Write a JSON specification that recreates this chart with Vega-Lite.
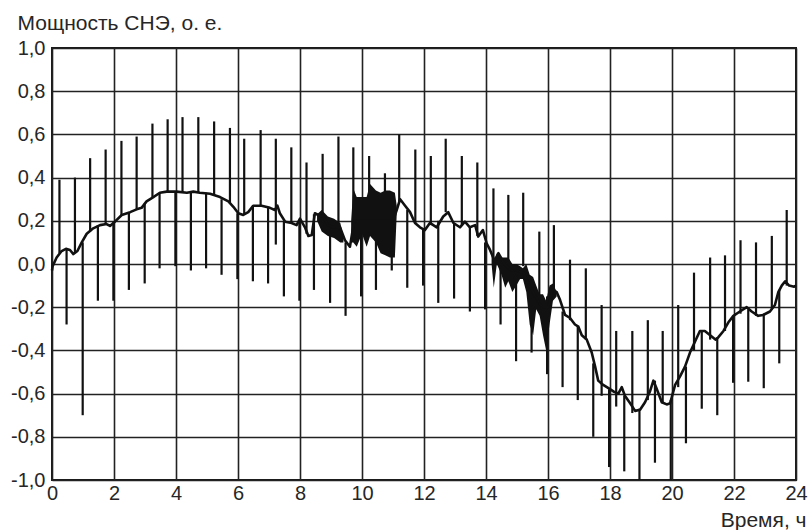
{
  "$schema": "https://vega.github.io/schema/vega-lite/v6.json",
  "width": 744,
  "height": 432,
  "autosize": "none",
  "padding": {"left": 52, "top": 48, "right": 14, "bottom": 50},
  "background": "white",
  "config": {
    "view": {"stroke": "#1a1a1a", "strokeWidth": 2},
    "font": "Liberation Sans"
  },
  "datasets": {
    "curve": [
      {"t": 0.0, "v": -0.03}, {"t": 0.02, "v": -0.01}, {"t": 0.15, "v": 0.03}, {"t": 0.31, "v": 0.06},
      {"t": 0.45, "v": 0.07}, {"t": 0.58, "v": 0.065}, {"t": 0.69, "v": 0.046}, {"t": 0.82, "v": 0.06},
      {"t": 0.96, "v": 0.10}, {"t": 1.12, "v": 0.14}, {"t": 1.33, "v": 0.165}, {"t": 1.55, "v": 0.18},
      {"t": 1.76, "v": 0.185}, {"t": 1.87, "v": 0.176}, {"t": 2.03, "v": 0.196}, {"t": 2.25, "v": 0.227},
      {"t": 2.52, "v": 0.24}, {"t": 2.73, "v": 0.253}, {"t": 2.89, "v": 0.26}, {"t": 3.05, "v": 0.29},
      {"t": 3.27, "v": 0.31}, {"t": 3.48, "v": 0.33}, {"t": 3.7, "v": 0.335}, {"t": 4.02, "v": 0.335},
      {"t": 4.35, "v": 0.33}, {"t": 4.56, "v": 0.335}, {"t": 4.77, "v": 0.33}, {"t": 5.1, "v": 0.325},
      {"t": 5.42, "v": 0.31}, {"t": 5.69, "v": 0.29}, {"t": 5.85, "v": 0.265}, {"t": 6.01, "v": 0.235},
      {"t": 6.17, "v": 0.227}, {"t": 6.33, "v": 0.24}, {"t": 6.49, "v": 0.27}, {"t": 6.76, "v": 0.27},
      {"t": 7.03, "v": 0.26}, {"t": 7.19, "v": 0.25}, {"t": 7.27, "v": 0.27}, {"t": 7.35, "v": 0.235},
      {"t": 7.52, "v": 0.196}, {"t": 7.73, "v": 0.19}, {"t": 7.89, "v": 0.18}, {"t": 8.0, "v": 0.21},
      {"t": 8.16, "v": 0.17}, {"t": 8.27, "v": 0.13}, {"t": 8.38, "v": 0.134}, {"t": 8.48, "v": 0.235},
      {"t": 8.59, "v": 0.227}, {"t": 8.75, "v": 0.22}, {"t": 8.9, "v": 0.18}, {"t": 9.07, "v": 0.17},
      {"t": 9.29, "v": 0.17}, {"t": 9.45, "v": 0.11}, {"t": 9.61, "v": 0.08}, {"t": 9.75, "v": 0.2},
      {"t": 10.0, "v": 0.2}, {"t": 10.5, "v": 0.2}, {"t": 11.0, "v": 0.2}, {"t": 11.12, "v": 0.25},
      {"t": 11.23, "v": 0.30}, {"t": 11.39, "v": 0.27}, {"t": 11.55, "v": 0.24}, {"t": 11.71, "v": 0.19},
      {"t": 11.87, "v": 0.17}, {"t": 12.03, "v": 0.157}, {"t": 12.19, "v": 0.19}, {"t": 12.41, "v": 0.17},
      {"t": 12.62, "v": 0.22}, {"t": 12.78, "v": 0.24}, {"t": 12.95, "v": 0.19}, {"t": 13.16, "v": 0.17},
      {"t": 13.32, "v": 0.196}, {"t": 13.48, "v": 0.17}, {"t": 13.65, "v": 0.18}, {"t": 13.75, "v": 0.127},
      {"t": 13.9, "v": 0.157}, {"t": 14.02, "v": 0.096}, {"t": 14.13, "v": 0.065}, {"t": 14.29, "v": 0.01},
      {"t": 14.4, "v": 0.05}, {"t": 14.6, "v": 0.0}, {"t": 14.8, "v": -0.03}, {"t": 15.0, "v": -0.03},
      {"t": 15.2, "v": -0.04}, {"t": 15.4, "v": -0.1}, {"t": 15.6, "v": -0.15}, {"t": 15.8, "v": -0.2},
      {"t": 16.0, "v": -0.2}, {"t": 16.16, "v": -0.12}, {"t": 16.28, "v": -0.13}, {"t": 16.39, "v": -0.167},
      {"t": 16.55, "v": -0.236}, {"t": 16.71, "v": -0.25}, {"t": 16.87, "v": -0.28}, {"t": 16.98, "v": -0.29},
      {"t": 17.09, "v": -0.33}, {"t": 17.25, "v": -0.35}, {"t": 17.41, "v": -0.41}, {"t": 17.52, "v": -0.475},
      {"t": 17.62, "v": -0.54}, {"t": 17.78, "v": -0.56}, {"t": 17.95, "v": -0.575}, {"t": 18.11, "v": -0.59},
      {"t": 18.27, "v": -0.60}, {"t": 18.38, "v": -0.57}, {"t": 18.48, "v": -0.61}, {"t": 18.65, "v": -0.645},
      {"t": 18.81, "v": -0.68}, {"t": 18.97, "v": -0.675}, {"t": 19.13, "v": -0.64}, {"t": 19.29, "v": -0.59},
      {"t": 19.4, "v": -0.54}, {"t": 19.5, "v": -0.575}, {"t": 19.67, "v": -0.64}, {"t": 19.83, "v": -0.65},
      {"t": 19.94, "v": -0.645}, {"t": 20.1, "v": -0.56}, {"t": 20.26, "v": -0.52}, {"t": 20.42, "v": -0.475},
      {"t": 20.58, "v": -0.41}, {"t": 20.74, "v": -0.36}, {"t": 20.9, "v": -0.31}, {"t": 21.06, "v": -0.31},
      {"t": 21.23, "v": -0.33}, {"t": 21.4, "v": -0.35}, {"t": 21.49, "v": -0.34}, {"t": 21.66, "v": -0.31},
      {"t": 21.82, "v": -0.27}, {"t": 21.98, "v": -0.24}, {"t": 22.19, "v": -0.22}, {"t": 22.41, "v": -0.20},
      {"t": 22.57, "v": -0.22}, {"t": 22.78, "v": -0.24}, {"t": 22.94, "v": -0.236}, {"t": 23.16, "v": -0.22},
      {"t": 23.32, "v": -0.19}, {"t": 23.43, "v": -0.13}, {"t": 23.54, "v": -0.10}, {"t": 23.65, "v": -0.08},
      {"t": 23.78, "v": -0.10}, {"t": 23.94, "v": -0.105}, {"t": 24.0, "v": -0.10}
    ],
    "band": [
      {"seg": "a", "t": 8.55, "hi": 0.23, "lo": 0.2},
      {"seg": "a", "t": 8.7, "hi": 0.25, "lo": 0.15},
      {"seg": "a", "t": 8.9, "hi": 0.22, "lo": 0.13},
      {"seg": "a", "t": 9.1, "hi": 0.21, "lo": 0.12},
      {"seg": "a", "t": 9.3, "hi": 0.19, "lo": 0.1},
      {"seg": "a", "t": 9.4, "hi": 0.13, "lo": 0.1},
      {"seg": "b", "t": 9.65, "hi": 0.2, "lo": 0.1},
      {"seg": "b", "t": 9.72, "hi": 0.35, "lo": 0.1},
      {"seg": "b", "t": 9.83, "hi": 0.31, "lo": 0.08},
      {"seg": "b", "t": 10.0, "hi": 0.31, "lo": 0.14},
      {"seg": "b", "t": 10.15, "hi": 0.31, "lo": 0.08},
      {"seg": "b", "t": 10.26, "hi": 0.37, "lo": 0.13},
      {"seg": "b", "t": 10.45, "hi": 0.34, "lo": 0.1},
      {"seg": "b", "t": 10.6, "hi": 0.33, "lo": 0.05},
      {"seg": "b", "t": 10.75, "hi": 0.34, "lo": 0.04},
      {"seg": "b", "t": 10.9, "hi": 0.34, "lo": 0.03},
      {"seg": "b", "t": 11.06, "hi": 0.33, "lo": 0.03},
      {"seg": "b", "t": 11.12, "hi": 0.27, "lo": 0.23},
      {"seg": "c", "t": 14.18, "hi": 0.05, "lo": 0.0},
      {"seg": "c", "t": 14.25, "hi": 0.02, "lo": -0.11},
      {"seg": "c", "t": 14.35, "hi": 0.05, "lo": 0.0},
      {"seg": "c", "t": 14.5, "hi": 0.03, "lo": -0.05},
      {"seg": "c", "t": 14.62, "hi": 0.03, "lo": -0.11},
      {"seg": "c", "t": 14.72, "hi": 0.03, "lo": -0.08},
      {"seg": "c", "t": 14.85, "hi": 0.0, "lo": -0.13},
      {"seg": "c", "t": 14.98, "hi": 0.0, "lo": -0.10},
      {"seg": "c", "t": 15.1, "hi": -0.01, "lo": -0.07},
      {"seg": "c", "t": 15.19, "hi": -0.02, "lo": -0.07},
      {"seg": "c", "t": 15.3, "hi": 0.0, "lo": -0.13},
      {"seg": "c", "t": 15.41, "hi": -0.05, "lo": -0.28},
      {"seg": "c", "t": 15.52, "hi": -0.06, "lo": -0.33},
      {"seg": "c", "t": 15.62, "hi": -0.10, "lo": -0.21},
      {"seg": "c", "t": 15.73, "hi": -0.14, "lo": -0.24},
      {"seg": "c", "t": 15.84, "hi": -0.14, "lo": -0.33},
      {"seg": "c", "t": 15.94, "hi": -0.17, "lo": -0.40},
      {"seg": "c", "t": 16.05, "hi": -0.10, "lo": -0.28},
      {"seg": "c", "t": 16.16, "hi": -0.09, "lo": -0.17},
      {"seg": "c", "t": 16.28, "hi": -0.13, "lo": -0.15}
    ],
    "spikes": [
      {"t": 0.24, "tip": 0.39, "base": 0.05}, {"t": 0.47, "tip": -0.28, "base": 0.07},
      {"t": 0.74, "tip": 0.40, "base": 0.05}, {"t": 0.99, "tip": -0.70, "base": 0.10},
      {"t": 1.23, "tip": 0.49, "base": 0.15}, {"t": 1.48, "tip": -0.17, "base": 0.18},
      {"t": 1.73, "tip": 0.53, "base": 0.185}, {"t": 1.98, "tip": -0.17, "base": 0.195},
      {"t": 2.24, "tip": 0.57, "base": 0.225}, {"t": 2.48, "tip": -0.12, "base": 0.24},
      {"t": 2.73, "tip": 0.59, "base": 0.25}, {"t": 2.99, "tip": -0.09, "base": 0.28},
      {"t": 3.24, "tip": 0.65, "base": 0.31}, {"t": 3.47, "tip": -0.02, "base": 0.33},
      {"t": 3.73, "tip": 0.67, "base": 0.335}, {"t": 3.98, "tip": -0.01, "base": 0.335},
      {"t": 4.21, "tip": 0.68, "base": 0.33}, {"t": 4.48, "tip": -0.03, "base": 0.33},
      {"t": 4.72, "tip": 0.68, "base": 0.33}, {"t": 4.97, "tip": -0.02, "base": 0.33},
      {"t": 5.23, "tip": 0.66, "base": 0.32}, {"t": 5.47, "tip": -0.05, "base": 0.30},
      {"t": 5.74, "tip": 0.63, "base": 0.28}, {"t": 5.98, "tip": -0.07, "base": 0.235},
      {"t": 6.2, "tip": 0.58, "base": 0.23}, {"t": 6.48, "tip": -0.08, "base": 0.27},
      {"t": 6.73, "tip": 0.62, "base": 0.27}, {"t": 6.97, "tip": -0.09, "base": 0.26},
      {"t": 7.22, "tip": 0.58, "base": 0.09}, {"t": 7.48, "tip": -0.15, "base": 0.2},
      {"t": 7.72, "tip": 0.54, "base": 0.19}, {"t": 7.98, "tip": -0.17, "base": 0.2},
      {"t": 8.21, "tip": 0.47, "base": 0.14}, {"t": 8.45, "tip": -0.12, "base": 0.23},
      {"t": 8.73, "tip": 0.51, "base": 0.22}, {"t": 8.97, "tip": -0.18, "base": 0.17},
      {"t": 9.24, "tip": 0.59, "base": 0.17}, {"t": 9.47, "tip": -0.24, "base": 0.1},
      {"t": 9.72, "tip": 0.54, "base": 0.2}, {"t": 9.97, "tip": -0.15, "base": 0.2},
      {"t": 10.23, "tip": 0.50, "base": 0.2}, {"t": 10.45, "tip": -0.12, "base": 0.2},
      {"t": 10.74, "tip": 0.42, "base": 0.2}, {"t": 10.96, "tip": -0.03, "base": 0.2},
      {"t": 11.2, "tip": 0.60, "base": 0.29}, {"t": 11.46, "tip": -0.11, "base": 0.25},
      {"t": 11.72, "tip": 0.53, "base": 0.19}, {"t": 11.97, "tip": -0.10, "base": 0.16},
      {"t": 12.22, "tip": 0.50, "base": 0.18}, {"t": 12.46, "tip": -0.18, "base": 0.2},
      {"t": 12.7, "tip": 0.58, "base": 0.24}, {"t": 12.97, "tip": -0.16, "base": 0.19},
      {"t": 13.22, "tip": 0.50, "base": 0.18}, {"t": 13.48, "tip": -0.22, "base": 0.17},
      {"t": 13.72, "tip": 0.47, "base": 0.13}, {"t": 13.97, "tip": -0.21, "base": 0.1},
      {"t": 14.24, "tip": 0.35, "base": 0.02}, {"t": 14.47, "tip": -0.28, "base": 0.03},
      {"t": 14.72, "tip": 0.32, "base": 0.0}, {"t": 14.97, "tip": -0.45, "base": 0.0},
      {"t": 15.2, "tip": 0.33, "base": -0.01}, {"t": 15.47, "tip": -0.41, "base": -0.06},
      {"t": 15.72, "tip": 0.15, "base": -0.18}, {"t": 15.97, "tip": -0.51, "base": -0.15},
      {"t": 16.19, "tip": 0.18, "base": -0.13}, {"t": 16.47, "tip": -0.57, "base": -0.22},
      {"t": 16.71, "tip": 0.02, "base": -0.26}, {"t": 16.96, "tip": -0.63, "base": -0.29},
      {"t": 17.22, "tip": -0.02, "base": -0.35}, {"t": 17.46, "tip": -0.80, "base": -0.46},
      {"t": 17.73, "tip": -0.19, "base": -0.61}, {"t": 17.97, "tip": -0.94, "base": -0.58},
      {"t": 18.2, "tip": -0.31, "base": -0.66}, {"t": 18.46, "tip": -0.96, "base": -0.61},
      {"t": 18.72, "tip": -0.31, "base": -0.69}, {"t": 18.95, "tip": -1.0, "base": -0.67},
      {"t": 19.22, "tip": -0.26, "base": -0.63}, {"t": 19.45, "tip": -0.92, "base": -0.54},
      {"t": 19.7, "tip": -0.31, "base": -0.645}, {"t": 19.96, "tip": -1.0, "base": -0.63},
      {"t": 20.2, "tip": -0.19, "base": -0.57}, {"t": 20.45, "tip": -0.83, "base": -0.475},
      {"t": 20.71, "tip": -0.04, "base": -0.40}, {"t": 20.96, "tip": -0.67, "base": -0.31},
      {"t": 21.23, "tip": 0.03, "base": -0.35}, {"t": 21.46, "tip": -0.70, "base": -0.34},
      {"t": 21.71, "tip": 0.04, "base": -0.31}, {"t": 21.97, "tip": -0.55, "base": -0.24},
      {"t": 22.21, "tip": 0.11, "base": -0.23}, {"t": 22.46, "tip": -0.545, "base": -0.21},
      {"t": 22.71, "tip": 0.10, "base": -0.24}, {"t": 22.96, "tip": -0.575, "base": -0.23},
      {"t": 23.22, "tip": 0.13, "base": -0.21}, {"t": 23.46, "tip": -0.46, "base": -0.12},
      {"t": 23.7, "tip": 0.25, "base": -0.10}
    ]
  },
  "layer": [
    {
      "data": {"name": "spikes"},
      "mark": {"type": "rule", "color": "#111111", "strokeWidth": 2.2},
      "encoding": {
        "x": {
          "field": "t", "type": "quantitative",
          "scale": {"domain": [0, 24], "nice": false, "zero": false},
          "axis": {
            "values": [0,1,2,3,4,5,6,7,8,9,10,11,12,13,14,15,16,17,18,19,20,21,22,23,24],
            "labelExpr": "datum.value % 2 == 0 ? toString(datum.value) : ''",
            "grid": true, "gridColor": "#222222", "gridWidth": 1.6, "gridOpacity": 1,
            "domain": false, "ticks": false,
            "labelFont": "Liberation Sans", "labelFontSize": 20, "labelColor": "#262626",
            "labelPadding": 3, "labelFlush": false, "labelOverlap": false,
            "title": "Время, ч", "titleFont": "Liberation Sans", "titleFontSize": 21,
            "titleFontWeight": "normal", "titleColor": "#262626",
            "titleAlign": "right", "titleBaseline": "alphabetic", "titleX": 754, "titleY": 46
          }
        },
        "y": {
          "field": "tip", "type": "quantitative",
          "scale": {"domain": [-1, 1], "nice": false, "zero": false},
          "axis": {
            "values": [-1, -0.8, -0.6, -0.4, -0.2, 0, 0.2, 0.4, 0.6, 0.8, 1],
            "labelExpr": "(datum.value < -0.001 ? '-' : '') + replace(format(abs(datum.value), '.1f'), '.', ',')",
            "grid": true, "gridColor": "#222222", "gridWidth": 1.6, "gridOpacity": 1,
            "domain": false, "ticks": false,
            "labelFont": "Liberation Sans", "labelFontSize": 20, "labelColor": "#262626",
            "labelPadding": 7, "labelFlush": false, "labelOverlap": false,
            "title": "Мощность СНЭ, о. е.", "titleFont": "Liberation Sans", "titleFontSize": 21,
            "titleFontWeight": "normal", "titleColor": "#262626",
            "titleAngle": 0, "titleAlign": "left", "titleBaseline": "alphabetic",
            "titleX": -35, "titleY": -19
          }
        },
        "y2": {"field": "base"}
      }
    },
    {
      "data": {"name": "band"},
      "mark": {"type": "area", "color": "#111111", "opacity": 1, "interpolate": "linear"},
      "encoding": {
        "x": {"field": "t", "type": "quantitative"},
        "y": {"field": "hi", "type": "quantitative"},
        "y2": {"field": "lo"},
        "detail": {"field": "seg", "type": "nominal"}
      }
    },
    {
      "data": {"name": "curve"},
      "mark": {"type": "line", "color": "#111111", "strokeWidth": 2.6, "strokeJoin": "round"},
      "encoding": {
        "x": {"field": "t", "type": "quantitative"},
        "y": {"field": "v", "type": "quantitative"}
      }
    }
  ]
}
